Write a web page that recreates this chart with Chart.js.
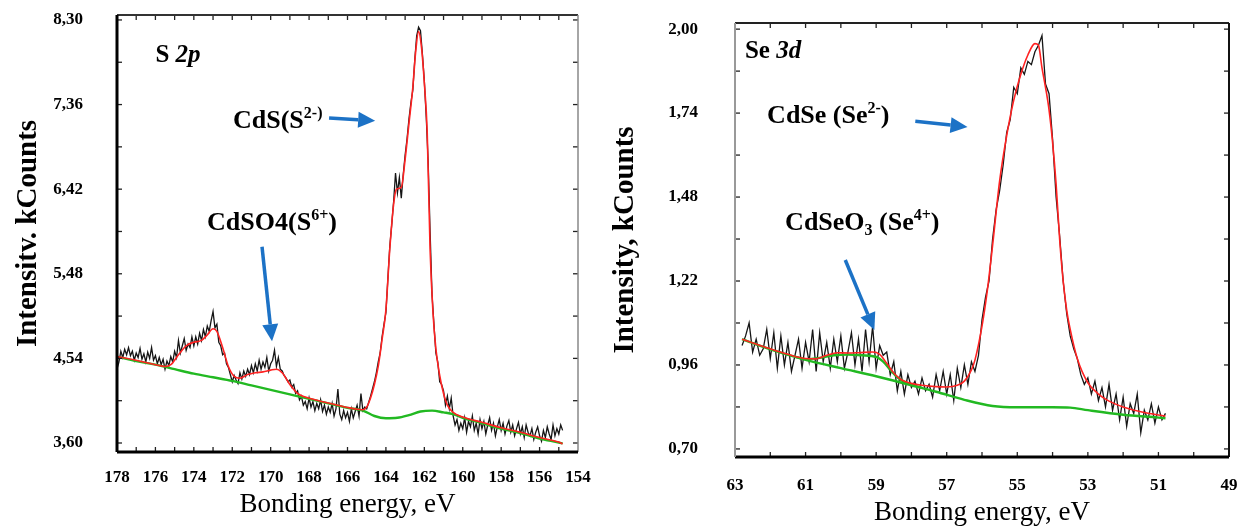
<!DOCTYPE html>
<html>
<head>
<meta charset="utf-8">
<script src="https://cdn.jsdelivr.net/npm/chart.js@4.4.0/dist/chart.umd.min.js"></script>
<style>
  body { margin: 0; background: #fff; width: 1243px; height: 526px; overflow: hidden; position: relative; }
  canvas { position: absolute; top: 0; }
  #c1 { left: 0; }
  #c2 { left: 600px; }
</style>
</head>
<body>
<canvas id="c1" width="620" height="526"></canvas>
<canvas id="c2" width="643" height="526"></canvas>
<script>
// ---------- S 2p panel ----------
const s2pRawStart = 178.0, s2pRawStep = 0.1;
const s2pRaw = [
  4.42, 4.50, 4.62, 4.55, 4.64, 4.58, 4.66, 4.57, 4.62, 4.52,
  4.60, 4.55, 4.65, 4.53, 4.59, 4.50, 4.61, 4.54, 4.66, 4.52,
  4.57, 4.48, 4.55, 4.47, 4.53, 4.42, 4.51, 4.46, 4.56, 4.50,
  4.62, 4.55, 4.74, 4.60, 4.68, 4.76, 4.63, 4.70, 4.66, 4.78,
  4.68, 4.78, 4.70, 4.82, 4.74, 4.86, 4.78, 4.90, 4.84, 4.96,
  5.06, 4.88, 4.92, 4.72, 4.68, 4.58, 4.60, 4.48, 4.44, 4.36,
  4.28, 4.35, 4.30, 4.26, 4.38, 4.31, 4.40, 4.34, 4.42, 4.36,
  4.46, 4.38, 4.48, 4.40, 4.52, 4.42, 4.50, 4.44, 4.55, 4.40,
  4.48, 4.52, 4.63, 4.45, 4.55, 4.42, 4.40, 4.35, 4.32, 4.28,
  4.30, 4.22, 4.25, 4.15, 4.18, 4.08, 4.12, 4.02, 4.06, 3.98,
  4.10, 4.00, 4.06, 3.96, 4.04, 3.98, 4.08, 3.95, 4.02, 3.92,
  4.00, 3.94, 4.04, 3.90, 3.98, 4.20, 3.92, 3.86, 3.96, 3.88,
  3.94, 3.84, 3.98, 3.88, 3.95, 4.02, 3.90, 4.15, 3.96, 4.00,
  3.98, 4.05, 4.12, 4.20, 4.28, 4.38, 4.50, 4.60, 4.78, 4.92,
  5.05, 5.42, 5.78, 6.02, 6.28, 6.60, 6.38, 6.55, 6.32, 6.58,
  6.80, 6.98, 7.20, 7.38, 7.52, 7.85, 8.12, 8.22, 8.18, 7.92,
  7.62, 7.22, 6.72, 5.95, 5.25, 4.92, 4.60, 4.50, 4.28, 4.25,
  4.18, 4.02, 4.12, 3.98, 4.10, 3.90, 3.80, 3.86, 3.74, 3.82,
  3.76, 3.88, 3.72, 3.84, 3.78, 3.90, 3.74, 3.82, 3.70, 3.86,
  3.76, 3.84, 3.70, 3.80, 3.88, 3.74, 3.82, 3.68, 3.78, 3.86,
  3.74, 3.82, 3.70, 3.79, 3.85, 3.72, 3.80, 3.68, 3.76, 3.83,
  3.70, 3.78, 3.66, 3.80, 3.72, 3.68, 3.76, 3.64, 3.72, 3.78,
  3.68, 3.62, 3.74, 3.66, 3.78, 3.70, 3.64, 3.80, 3.68, 3.76,
  3.70, 3.80, 3.74
];
const s2pFitE = [178.0, 177.0, 176.0, 175.5, 175.2, 174.8, 174.4, 174.0, 173.6, 173.3, 173.0, 172.8, 172.5, 172.2, 171.9, 171.6, 171.2, 170.8, 170.4, 170.0, 169.7, 169.4, 169.0, 168.6, 168.2, 167.5, 167.0, 166.5, 166.0, 165.5, 165.2, 165.0, 164.8, 164.6, 164.4, 164.2, 164.0, 163.8, 163.6, 163.45, 163.2, 163.0, 162.8, 162.6, 162.45, 162.3, 162.15, 162.0, 161.85, 161.7, 161.55, 161.4, 161.2, 161.0, 160.8, 160.5, 160.0, 159.0, 158.0, 157.0, 156.0, 155.0, 154.8];
const s2pFitI = [4.56, 4.52, 4.47, 4.45, 4.47, 4.58, 4.68, 4.72, 4.74, 4.80, 4.87, 4.84, 4.66, 4.45, 4.34, 4.32, 4.36, 4.38, 4.39, 4.41, 4.42, 4.38, 4.25, 4.15, 4.11, 4.07, 4.045, 4.02, 3.995, 3.975, 3.97, 4.00, 4.10, 4.25, 4.45, 4.75, 5.08, 5.75, 6.25, 6.42, 6.44, 6.75, 7.15, 7.55, 7.95, 8.17, 8.00, 7.60, 7.05, 5.75, 5.05, 4.65, 4.35, 4.15, 4.02, 3.94, 3.89, 3.83, 3.77, 3.72, 3.66, 3.61, 3.59];
const s2pBgE = [178.0, 177.0, 176.0, 175.0, 174.0, 173.0, 172.0, 171.0, 170.0, 169.0, 168.0, 167.0, 166.0, 165.2, 164.6, 164.0, 163.4, 162.8, 162.2, 161.6, 161.0, 160.5, 160.0, 159.0, 158.0, 157.0, 156.0, 155.0, 154.8];
const s2pBgI = [4.56, 4.51, 4.47, 4.42, 4.37, 4.33, 4.29, 4.24, 4.19, 4.14, 4.09, 4.04, 3.99, 3.96, 3.90, 3.875, 3.88, 3.91, 3.95, 3.96, 3.94, 3.92, 3.88, 3.82, 3.76, 3.71, 3.65, 3.605, 3.595];
const s2pXTicks = [178, 176, 174, 172, 170, 168, 166, 164, 162, 160, 158, 156, 154];
const s2pXMarks = [177, 176, 175, 174, 173, 172, 171, 170, 169, 168, 167, 166, 165, 164, 163, 162, 161, 160, 159, 158, 157, 156, 155];
const s2pYTicks = [3.60, 4.54, 5.48, 6.42, 7.36, 8.30];
const s2pYMinor = [4.07, 5.01, 5.95, 6.89, 7.83];

// ---------- Se 3d panel ----------
const seRawStart = 62.8, seRawStep = 0.1;
const seRaw = [
  1.02, 1.05, 1.09, 1.00, 1.04, 0.99, 1.01, 1.07, 0.98, 1.06,
  0.95, 1.05, 0.96, 1.03, 0.94, 0.99, 1.04, 0.95, 1.03, 0.97,
  1.07, 0.94, 1.06, 0.97, 1.03, 0.95, 1.04, 0.97, 1.05, 0.95,
  1.00, 1.06, 0.96, 1.04, 0.94, 1.07, 0.97, 1.08, 0.95, 1.02,
  0.99, 1.00, 0.93, 0.97, 0.88, 0.94, 0.87, 0.93, 0.89, 0.91,
  0.87, 0.92, 0.88, 0.90, 0.86, 0.93, 0.88, 0.94, 0.87, 0.93,
  0.85, 0.95, 0.89, 0.96, 0.90, 0.97, 0.94, 0.99, 1.10, 1.17,
  1.22, 1.35, 1.44, 1.50, 1.58, 1.68, 1.72, 1.82, 1.80, 1.88,
  1.86, 1.90, 1.89, 1.93, 1.95, 1.98, 1.83, 1.80, 1.66, 1.48,
  1.36, 1.22, 1.12, 1.05, 1.01, 0.98, 0.93, 0.90, 0.92, 0.87,
  0.91, 0.85, 0.89, 0.83, 0.90, 0.82, 0.87, 0.79, 0.86, 0.77,
  0.84, 0.81, 0.87, 0.75, 0.82, 0.79, 0.84, 0.78, 0.83, 0.79,
  0.81
];
const seFitE = [62.8, 62.0, 61.5, 61.0, 60.7, 60.4, 60.1, 59.8, 59.5, 59.1, 58.9, 58.7, 58.5, 58.3, 58.0, 57.7, 57.3, 57.0, 56.7, 56.5, 56.3, 56.2, 56.0, 55.85, 55.7, 55.5, 55.3, 55.1, 54.9, 54.7, 54.5, 54.4, 54.3, 54.2, 54.1, 54.0, 53.9, 53.8, 53.7, 53.6, 53.5, 53.3, 53.0, 52.7, 52.4, 52.0, 51.5, 51.0, 50.8];
const seFitI = [1.040, 1.010, 0.993, 0.980, 0.979, 0.990, 0.998, 0.997, 0.998, 1.000, 0.993, 0.965, 0.935, 0.915, 0.903, 0.897, 0.893, 0.892, 0.897, 0.910, 0.945, 0.975, 1.08, 1.19, 1.33, 1.53, 1.67, 1.78, 1.86, 1.92, 1.955, 1.95, 1.88, 1.82, 1.75, 1.65, 1.52, 1.35, 1.22, 1.13, 1.07, 0.98, 0.905, 0.870, 0.848, 0.830, 0.815, 0.805, 0.802];
const seBgE = [62.8, 62.0, 61.0, 60.0, 59.0, 58.0, 57.3, 56.5, 55.7, 55.0, 54.0, 53.5, 53.0, 52.0, 51.0, 50.8];
const seBgI = [1.040, 1.008, 0.976, 0.950, 0.925, 0.897, 0.877, 0.852, 0.833, 0.829, 0.829, 0.828, 0.820, 0.806, 0.797, 0.795];
const seCompE = [61.3, 61.0, 60.6, 60.2, 59.8, 59.4, 59.0, 58.8, 58.6, 58.4, 58.2, 58.0, 57.7];
const seCompI = [0.986, 0.978, 0.982, 0.990, 0.992, 0.990, 0.985, 0.970, 0.945, 0.922, 0.908, 0.899, 0.889];
const seXTicks = [63, 61, 59, 57, 55, 53, 51, 49];
const seXMarks = [62, 61, 60, 59, 58, 57, 56, 55, 54, 53, 52, 51, 50];
const seYTicks = [0.70, 0.96, 1.22, 1.48, 1.74, 2.00];
const seYMinor = [0.83, 1.09, 1.35, 1.61, 1.87];

const serif = "'Liberation Serif', 'Times New Roman', serif";

function rawPoints(start, step, vals) {
  return vals.map((v, i) => ({ x: +(start - i * step).toFixed(2), y: v }));
}
function zip(es, is) {
  return es.map((e, i) => ({ x: e, y: is[i] }));
}

function drawRich(ctx, x, y, parts, size) {
  ctx.fillStyle = '#000';
  ctx.textBaseline = 'alphabetic';
  ctx.textAlign = 'left';
  parts.forEach(([t, s]) => {
    let sz = size, dy = 0, style = 'bold';
    if (s === 'sup') { sz = Math.round(size * 0.62); dy = -size * 0.38; }
    if (s === 'sub') { sz = Math.round(size * 0.62); dy = size * 0.18; }
    if (s === 'bi') style = 'italic bold';
    ctx.font = style + ' ' + sz + 'px ' + serif;
    ctx.fillText(t, x, y + dy);
    x += ctx.measureText(t).width;
  });
}

function arrow(ctx, x1, y1, x2, y2) {
  const ang = Math.atan2(y2 - y1, x2 - x1), hl = 17, hw = 8;
  const bx = x2 - hl * Math.cos(ang), by = y2 - hl * Math.sin(ang);
  ctx.strokeStyle = ctx.fillStyle = '#1c72c6';
  ctx.lineWidth = 3.5;
  ctx.beginPath(); ctx.moveTo(x1, y1); ctx.lineTo(bx, by); ctx.stroke();
  ctx.beginPath();
  ctx.moveTo(x2, y2);
  ctx.lineTo(bx + hw * Math.sin(ang), by - hw * Math.cos(ang));
  ctx.lineTo(bx - hw * Math.sin(ang), by + hw * Math.cos(ang));
  ctx.closePath(); ctx.fill();
}

// frame, inward ticks, labels and arrows
const decor = {
  id: 'decor',
  afterDatasetsDraw(chart, args, o) {
    const { ctx, chartArea: a, scales: { x, y } } = chart;
    ctx.save();
    ctx.strokeStyle = '#222';
    ctx.lineWidth = 1.3;
    const seg = (x1, y1, x2, y2) => { ctx.beginPath(); ctx.moveTo(x1, y1); ctx.lineTo(x2, y2); ctx.stroke(); };
    o.xMarks.forEach(v => {
      const p = x.getPixelForValue(v);
      seg(p, a.top, p, a.top + 5);
      seg(p, a.bottom, p, a.bottom - 5);
    });
    o.yMarks.forEach(v => {
      const p = y.getPixelForValue(v);
      seg(a.left, p, a.left + 5, p);
      seg(a.right, p, a.right - 5, p);
    });
    const f = o.frame;
    [['top', a.left, a.top, a.right, a.top], ['right', a.right, a.top, a.right, a.bottom],
     ['bottom', a.left, a.bottom, a.right, a.bottom], ['left', a.left, a.top, a.left, a.bottom]]
      .forEach(([k, x1, y1, x2, y2]) => {
        ctx.strokeStyle = f[k][0]; ctx.lineWidth = f[k][1];
        seg(x1, y1, x2, y2);
      });
    o.labels.forEach(l => drawRich(ctx, x.getPixelForValue(l.x), y.getPixelForValue(l.y), l.parts, l.size));
    o.arrows.forEach(r => arrow(ctx, x.getPixelForValue(r[0]), y.getPixelForValue(r[1]),
      x.getPixelForValue(r[2]), y.getPixelForValue(r[3])));
    ctx.restore();
  }
};

function noEdgePadding(s) {
  s.paddingTop = 0; s.paddingBottom = 0; s.paddingLeft = 0; s.paddingRight = 0;
}

function makeChart(id, p) {
  return new Chart(document.getElementById(id), {
    type: 'line',
    data: {
      datasets: [
        { data: p.fit, borderColor: '#ff2222', borderWidth: 1.6, cubicInterpolationMode: 'monotone' },
        ...p.greens.map(g => ({ data: g, borderColor: '#22b922', borderWidth: 2.4, cubicInterpolationMode: 'monotone' })),
        { data: p.raw, borderColor: '#151515', borderWidth: 1.3, tension: 0 }
      ]
    },
    options: {
      responsive: false,
      animation: false,
      elements: { point: { radius: 0 } },
      layout: { padding: p.pad },
      plugins: {
        legend: { display: false },
        tooltip: { enabled: false },
        decor: p.decor
      },
      scales: {
        x: {
          type: 'linear', reverse: true, min: p.xMin, max: p.xMax,
          grid: { display: false, drawTicks: false }, border: { display: false },
          afterBuildTicks: s => { s.ticks = p.xTicks.map(v => ({ value: v })); },
          afterFit: s => { s.height = p.xH; noEdgePadding(s); },
          ticks: { color: '#000', padding: p.xPad, autoSkip: false, maxRotation: 0,
                   font: { family: serif, size: 17, weight: 'bold' }, callback: v => String(v) },
          title: { display: true, text: 'Bonding energy, eV', color: '#000',
                   font: { family: serif, size: 27, lineHeight: 1 }, padding: { top: 0, bottom: p.xTitlePad } }
        },
        y: {
          min: p.yMin, max: p.yMax,
          grid: { display: false, drawTicks: false }, border: { display: false },
          afterBuildTicks: s => { s.ticks = p.yTicks.map(v => ({ value: v })); },
          afterFit: s => { s.width = p.yW; noEdgePadding(s); },
          ticks: { color: '#000', padding: p.yPad, autoSkip: false,
                   font: { family: serif, size: 17, weight: 'bold' },
                   callback: v => v.toFixed(2).replace('.', ',') },
          title: { display: true, text: p.yTitle, color: '#000',
                   font: { family: serif, size: 29, weight: 'bold', lineHeight: 1.2 }, padding: { top: p.yTitlePad, bottom: 0 } }
        }
      }
    },
    plugins: [decor]
  });
}

makeChart('c1', {
  raw: rawPoints(s2pRawStart, s2pRawStep, s2pRaw),
  fit: zip(s2pFitE, s2pFitI),
  greens: [zip(s2pBgE, s2pBgI)],
  xMin: 154, xMax: 178, yMin: 3.50, yMax: 8.355,
  xTicks: s2pXTicks, yTicks: s2pYTicks,
  pad: { left: 0, right: 42, top: 15, bottom: 0 },
  xH: 74, yW: 117, xPad: 15, yPad: 34, xTitlePad: 8, yTitlePad: 11,
  yTitle: 'Intensitv. kCounts',
  decor: {
    xMarks: s2pXMarks, yMarks: s2pYTicks.concat(s2pYMinor),
    frame: { top: ['#333', 2], right: ['#888', 1.5], bottom: ['#000', 3], left: ['#000', 3] },
    labels: [
      { x: 176.0, y: 7.83, size: 25, parts: [['S ', 'b'], ['2p', 'bi']] },
      { x: 171.96, y: 7.10, size: 26, parts: [['CdS(S', 'b'], ['2-)', 'sup']] },
      { x: 173.31, y: 5.97, size: 26, parts: [['CdSO4(S', 'b'], ['6+', 'sup'], [')', 'b']] }
    ],
    arrows: [[166.96, 7.21, 164.56, 7.18], [170.45, 5.78, 169.93, 4.73]]
  }
});

makeChart('c2', {
  raw: rawPoints(seRawStart, seRawStep, seRaw),
  fit: zip(seFitE, seFitI),
  greens: [zip(seCompE, seCompI), zip(seBgE, seBgI)],
  xMin: 49, xMax: 63, yMin: 0.675, yMax: 2.019,
  xTicks: seXTicks, yTicks: seYTicks,
  pad: { left: 0, right: 14, top: 23, bottom: 0 },
  xH: 69, yW: 135, xPad: 18, yPad: 37, xTitlePad: 0, yTitlePad: 8,
  yTitle: 'Intensity, kCounts',
  decor: {
    xMarks: seXMarks, yMarks: seYTicks.concat(seYMinor),
    frame: { top: ['#222', 2], right: ['#111', 2], bottom: ['#000', 3], left: ['#999', 2] },
    labels: [
      { x: 62.72, y: 1.911, size: 25, parts: [['Se ', 'b'], ['3d', 'bi']] },
      { x: 62.09, y: 1.709, size: 26, parts: [['CdSe (Se', 'b'], ['2-', 'sup'], [')', 'b']] },
      { x: 61.58, y: 1.378, size: 26, parts: [['CdSeO', 'b'], ['3', 'sub'], [' (Se', 'b'], ['4+', 'sup'], [')', 'b']] }
    ],
    arrows: [[57.89, 1.715, 56.41, 1.697], [59.875, 1.285, 59.05, 1.068]]
  }
});
</script>
</body>
</html>
